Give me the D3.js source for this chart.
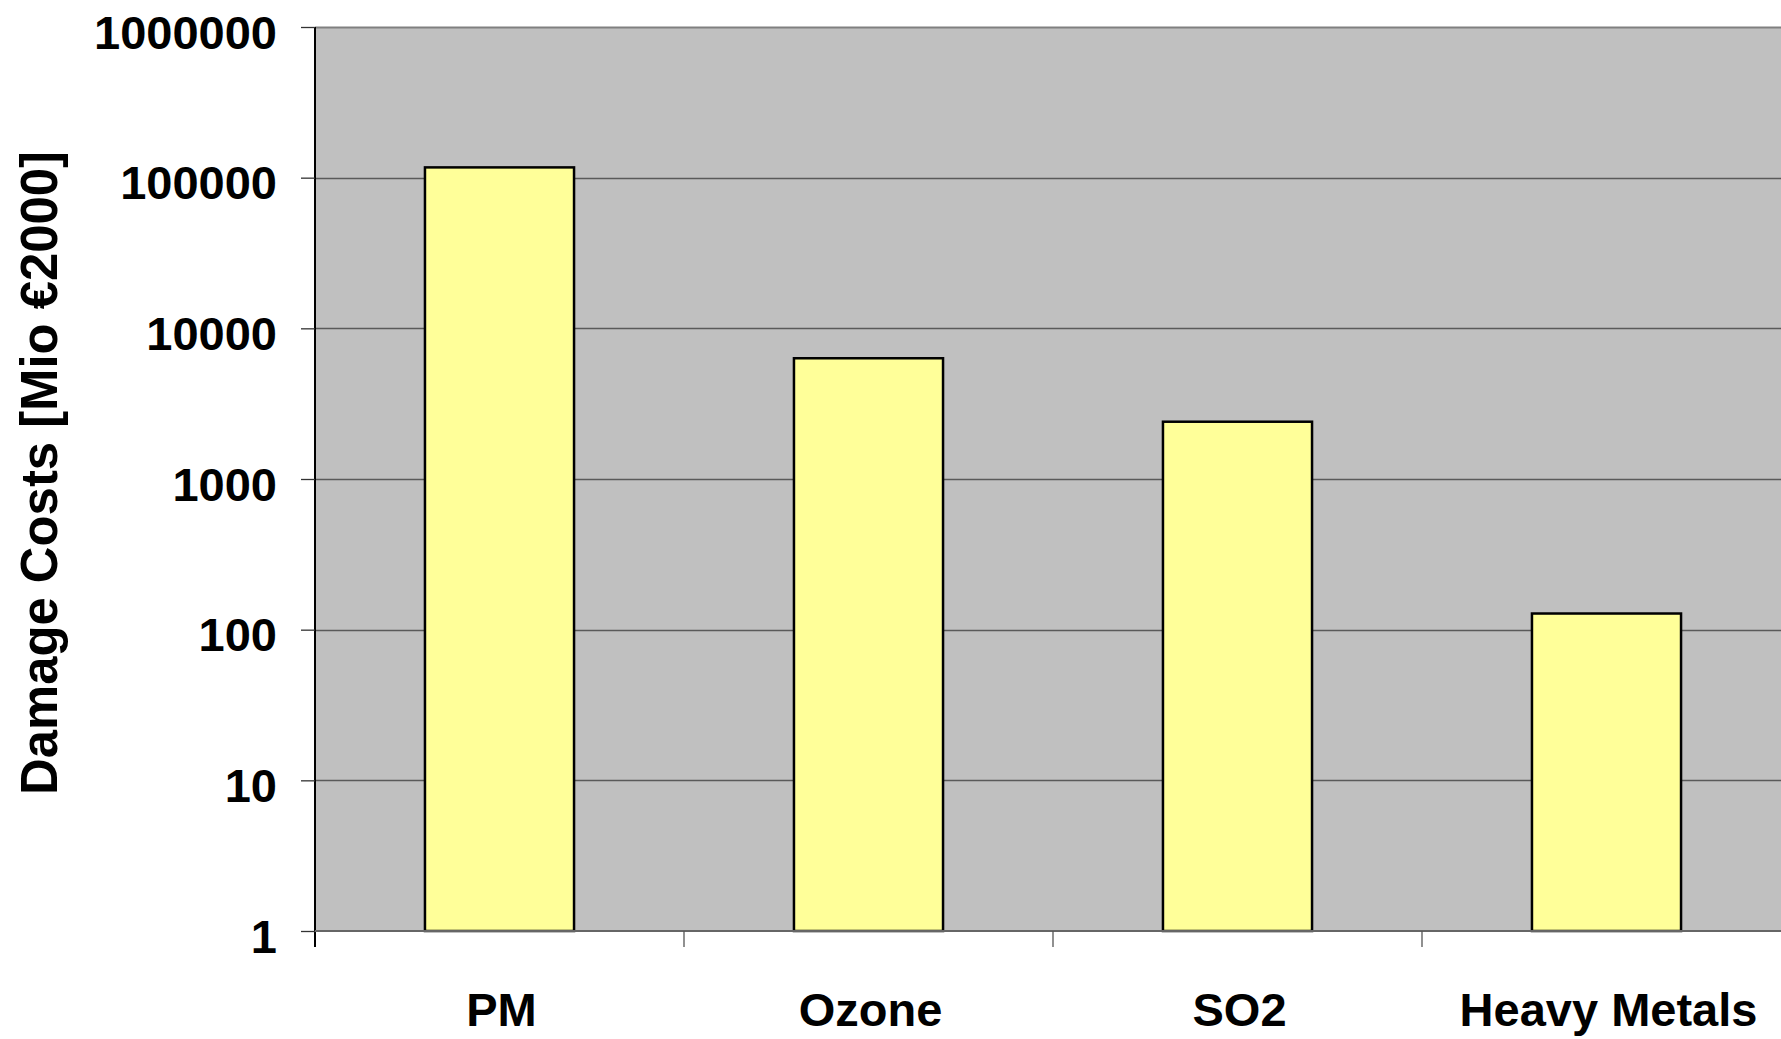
<!DOCTYPE html>
<html><head><meta charset="utf-8">
<script src="https://cdn.jsdelivr.net/npm/d3@7"></script>
<style>body{margin:0;background:#fff}svg{display:block}text{font-family:"Liberation Sans",Arial,sans-serif;font-weight:bold;fill:#000}</style>
</head><body>
<svg id="c" width="1781" height="1039"></svg>
<script>
const categories = ["PM", "Ozone", "SO2", "Heavy Metals"];
const values = [117000, 6330, 2400, 128];
const yTicks = [1, 10, 100, 1000, 10000, 100000, 1000000];
const yTitle = "Damage Costs [Mio €2000]";

const svg = d3.select("#c");
const L = 315, R = 1791, T = 27, B = 931;
const x = d3.scaleBand().domain(categories).range([L, R]).paddingInner(0.596).paddingOuter(0.298);
const y = d3.scaleLog().domain([1, 1000000]).range([B, T]);

svg.append("rect").attr("x", L).attr("y", T).attr("width", R - L).attr("height", B - T).attr("fill", "#c0c0c0");

// gridlines
svg.append("g").selectAll("line").data(yTicks.slice(1)).join("line")
  .attr("x1", L).attr("x2", R).attr("y1", d => Math.round(y(d)) + 0.5).attr("y2", d => Math.round(y(d)) + 0.5)
  .attr("stroke", d => d === 1000000 ? "#808080" : "#5a5a5a").attr("stroke-width", d => d === 1000000 ? 2 : 1.3);

// bars
svg.append("g").selectAll("rect").data(categories).join("rect")
  .attr("x", d => x(d)).attr("width", x.bandwidth())
  .attr("y", (d, i) => y(values[i])).attr("height", (d, i) => B - y(values[i]))
  .attr("fill", "#ffff99").attr("stroke", "#000").attr("stroke-width", 2.5);

// y axis
const yAxis = d3.axisLeft(y).tickValues(yTicks).tickFormat(d3.format("d")).tickSize(14).tickPadding(24);
const ga = svg.append("g").attr("transform", `translate(${L},0)`).call(yAxis);
ga.select(".domain").attr("stroke", "#000").attr("stroke-width", 2).attr("d", `M0,${T}V${B + 16}`);
ga.selectAll(".tick line").attr("stroke", "#333").attr("stroke-width", 1.3);
ga.selectAll(".tick text").attr("font-size", 47).attr("dy", "21px").attr("font-family", '"Liberation Sans",Arial,sans-serif').attr("font-weight", "bold");

// x axis
const xb = d3.scaleLinear().domain([0, 4]).range([L, R]);
const gx = svg.append("g");
gx.append("line").attr("x1", L).attr("x2", R).attr("y1", B).attr("y2", B).attr("stroke", "#666").attr("stroke-width", 2);
gx.selectAll("line.t").data([1, 2, 3]).join("line").attr("class", "t")
  .attr("x1", d => xb(d)).attr("x2", d => xb(d)).attr("y1", B).attr("y2", B + 16)
  .attr("stroke", "#555").attr("stroke-width", 1.3);
gx.selectAll("text").data(categories).join("text")
  .attr("x", d => x(d) + x.bandwidth() / 2 + 2).attr("y", 1026)
  .attr("text-anchor", "middle").attr("font-size", 47).text(d => d);

// y title
svg.append("text").attr("transform", "translate(57,473) rotate(-90)")
  .attr("text-anchor", "middle").attr("font-size", 52)
  .attr("textLength", 644).attr("lengthAdjust", "spacingAndGlyphs").text(yTitle);
</script>
</body></html>
